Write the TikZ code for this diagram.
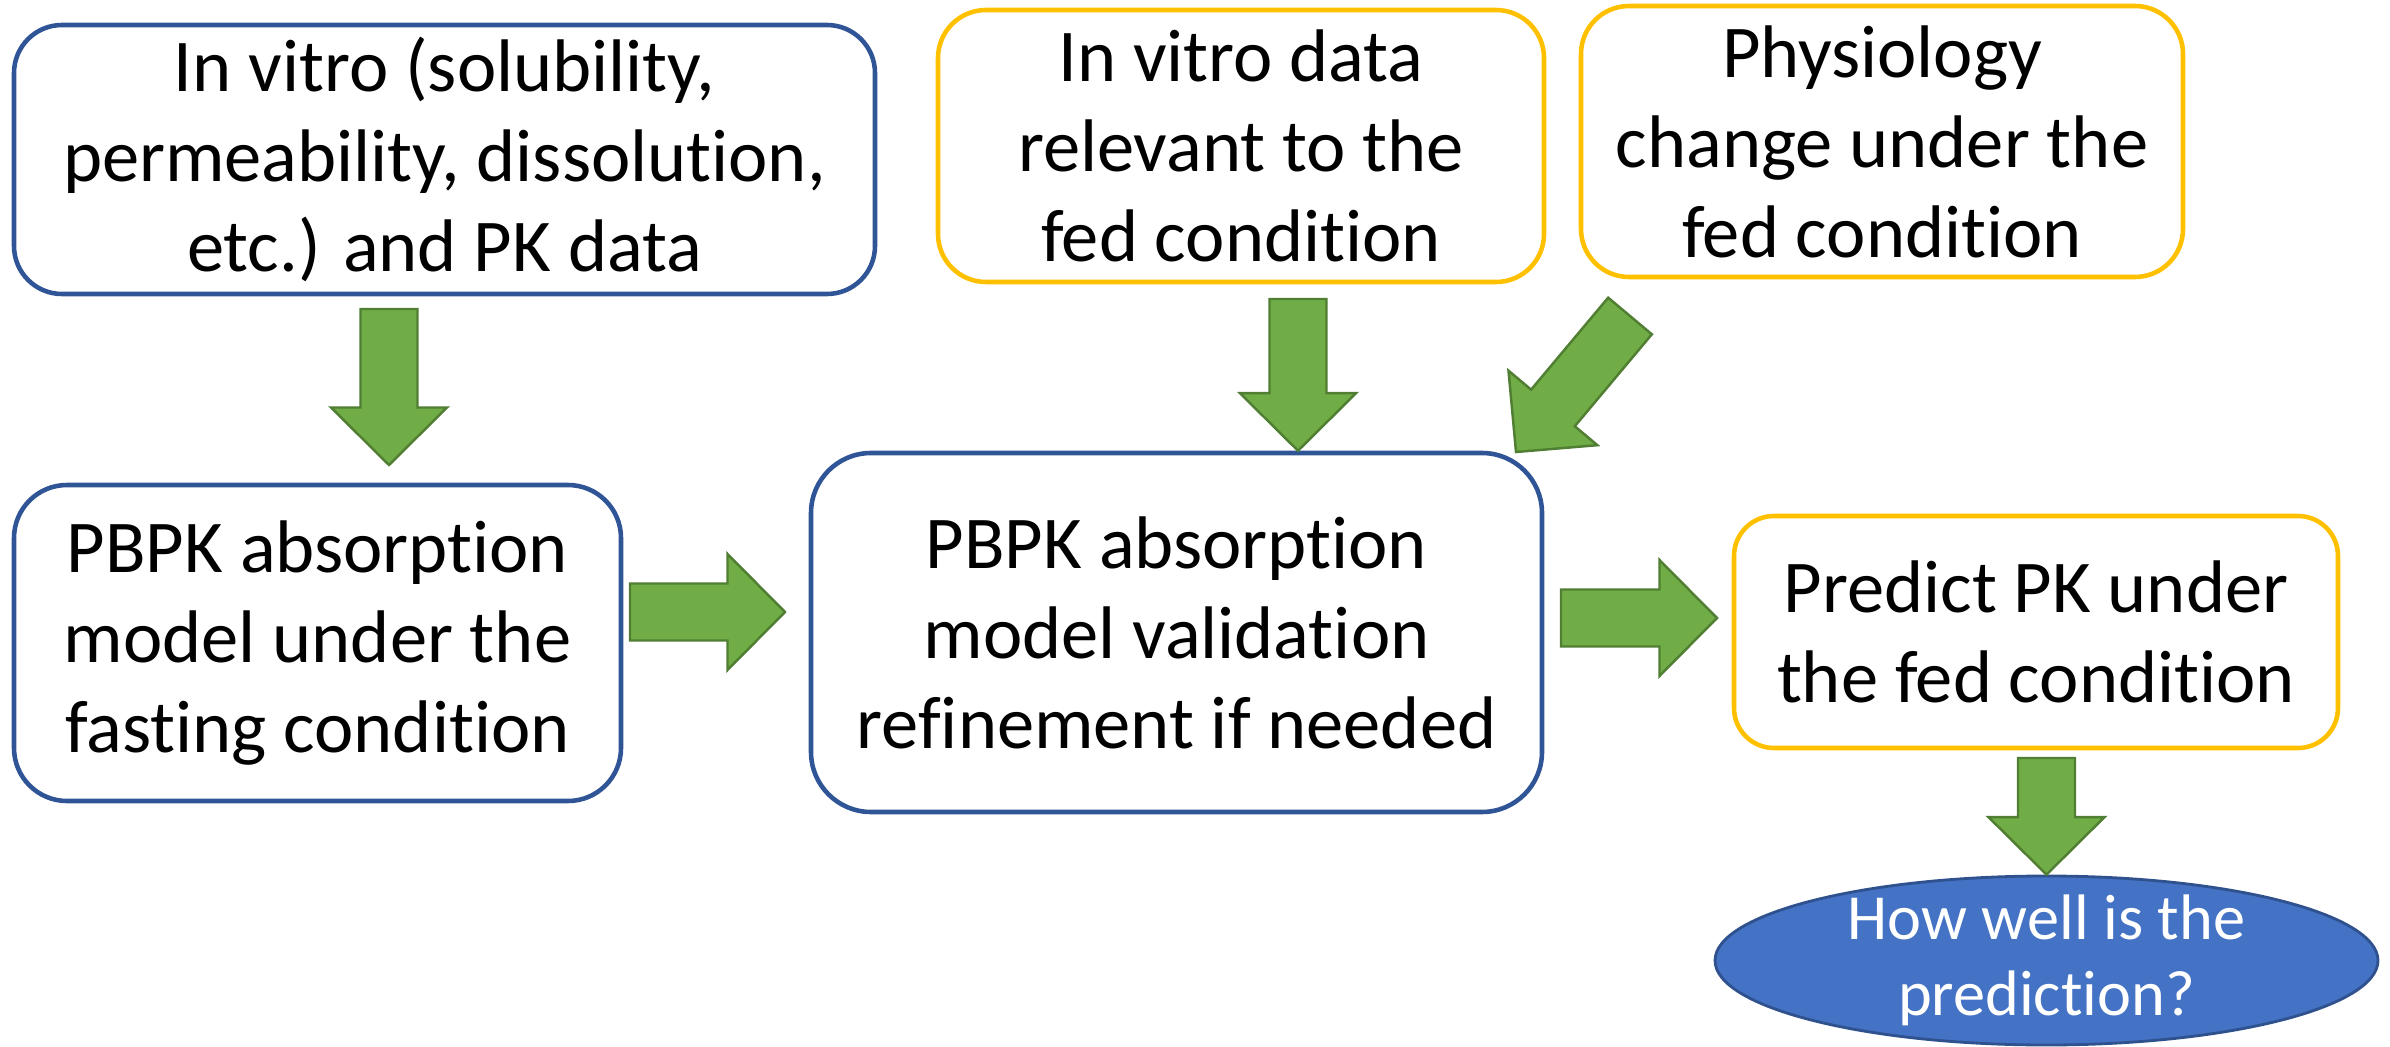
\documentclass[tikz,border=0pt]{standalone}
\usepackage{fontspec}
\setmainfont{Carlito}[Ligatures=NoCommon]
\usetikzlibrary{calc,shapes.geometric}

\definecolor{boxblue}{HTML}{2F5597}
\definecolor{boxgold}{HTML}{FFC000}
\definecolor{arrowfill}{HTML}{70AD47}
\definecolor{arrowline}{HTML}{507E32}
\definecolor{ovalfill}{HTML}{4472C4}
\definecolor{ovalline}{HTML}{2F528F}

\newcommand{\boxfont}{\fontsize{21.2pt}{25.6pt}\selectfont}
\newcommand{\ovalfont}{\fontsize{18.3pt}{21.6pt}\selectfont}

% fat block arrow from #1 (tail) to #2 (tip)
\newcommand{\blockarrow}[2]{%
  \coordinate (#1-neck) at ($(#2)!5.75mm!(#1)$);
  \path[fatarrow] ($(#1)!2.85mm!90:(#2)$) -- ($(#1-neck)!2.85mm!90:(#2)$)
     -- ($(#1-neck)!5.8mm!90:(#2)$) -- (#2) -- ($(#1-neck)!5.8mm!-90:(#2)$)
     -- ($(#1-neck)!2.85mm!-90:(#2)$) -- ($(#1)!2.85mm!-90:(#2)$) -- cycle;}

\begin{document}
\begin{tikzpicture}[x=0.1mm,y=0.1mm]
        \tikzstyle{bluebox}=[rectangle,rounded corners=4.8mm,draw=boxblue,line width=1.3pt,fill=white,align=center,inner sep=0pt,font=\boxfont]
        \tikzstyle{goldbox}=[bluebox,draw=boxgold]
        \tikzstyle{oval}=[ellipse,draw=ovalline,fill=ovalfill,line width=0.8pt,text=white,align=center,inner xsep=0pt,inner ysep=-2mm,font=\ovalfont]
        \tikzstyle{fatarrow}=[draw=arrowline,fill=arrowfill,line width=0.7pt]
        \useasboundingbox (0,0) rectangle (2390,1046);
       \begin{scope}
         \node [bluebox,minimum width=86.1mm,minimum height=26.9mm] (invitro) at (444.5,886.5) {In vitro (solubility,\\permeability, dissolution,\\etc.) and PK data};
         \node [goldbox,minimum width=60.6mm,minimum height=27.2mm] (fedvitro) at (1241,900) {In vitro data\\relevant to the\\fed condition};
         \node [goldbox,minimum width=60.2mm,minimum height=27.1mm] (physio) at (1882,904.5) {Physiology\\change under the\\fed condition};
         \node [bluebox,minimum width=60.7mm,minimum height=31.6mm,rounded corners=5.3mm] (fasting) at (317.5,403) {PBPK absorption\\model under the\\fasting condition};
         \node [bluebox,minimum width=73.1mm,minimum height=35.9mm,rounded corners=6mm] (validate) at (1176.5,413.5) {PBPK absorption\\model validation\\refinement if needed};
         \node [goldbox,minimum width=60.4mm,minimum height=23.2mm,rounded corners=4mm] (predict) at (2036,414) {Predict PK under\\the fed condition};
         \node [oval,minimum width=66.3mm,minimum height=16.9mm] (howwell) at (2046.5,85.5) {How well is the\\prediction?};
         \coordinate (a1s) at (389,737);
         \coordinate (a1e) at (389,581);
         \coordinate (a2s) at (1298,747);
         \coordinate (a2e) at (a2s |- validate.north);
         \coordinate (a3s) at (1630,730);
         \coordinate (a3e) at (1516,594);
         \coordinate (a4s) at (630,434);
         \coordinate (a4e) at (785,434);
         \coordinate (a5s) at (1561,428);
         \coordinate (a5e) at (1717,428);
         \coordinate (a6s) at (2046.5,288);
         \coordinate (a6e) at (howwell.north);
         \blockarrow{a1s}{a1e}
         \blockarrow{a2s}{a2e}
         \blockarrow{a3s}{a3e}
         \blockarrow{a4s}{a4e}
         \blockarrow{a5s}{a5e}
         \blockarrow{a6s}{a6e}
        \end{scope}
      \end{tikzpicture}
\end{document}
